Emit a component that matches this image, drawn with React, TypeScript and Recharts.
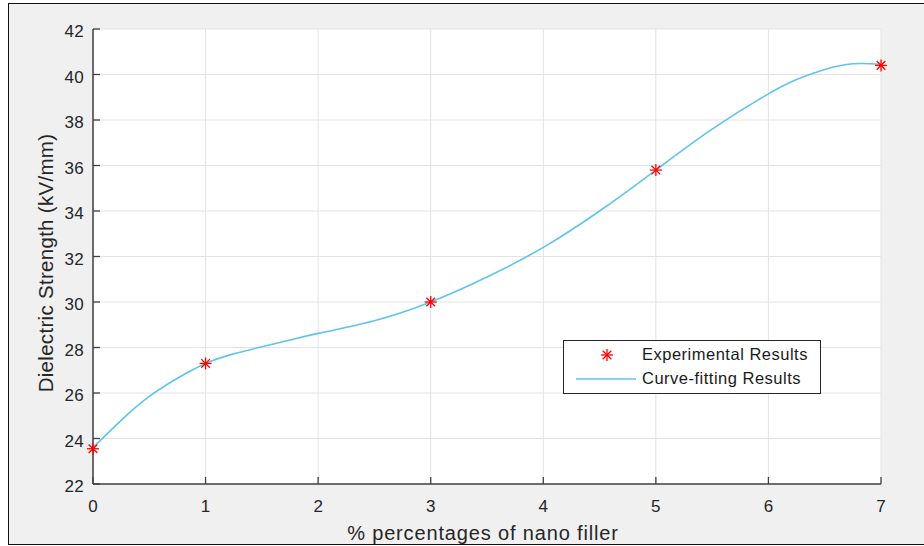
import { ComposedChart, Line, Scatter, XAxis, YAxis, CartesianGrid, Legend } from "recharts";

const xTicks = [0, 1, 2, 3, 4, 5, 6, 7];
const yTicks = [22, 24, 26, 28, 30, 32, 34, 36, 38, 40, 42];

// measured points
const expX = [0, 1, 3, 5, 7];
const expY = [23.55, 27.3, 30.0, 35.8, 40.4];

// fitted curve
const fitX = [0, 0.25, 0.5, 0.75, 1, 1.25, 1.5, 1.75, 2, 2.5, 3, 3.5, 4, 4.5, 5, 5.5, 6, 6.25, 6.5, 6.75, 7];
const fitY = [23.6, 24.8, 25.85, 26.65, 27.3, 27.72, 28.03, 28.33, 28.62, 29.18, 30.0, 31.1, 32.4, 34.0, 35.8, 37.6, 39.15, 39.78, 40.22, 40.47, 40.45];

const expData = expX.map((x, i) => ({ x, y: expY[i] }));
const fitData = fitX.map((x, i) => ({ x, y: fitY[i] }));

const FONT = "'Liberation Sans', Arial, Helvetica, sans-serif";
const AXIS = "#404040";
const TEXT = "#262626";
const RED = "#ff0000";
const BLUE = "#5ec4ee";

function Asterisk({ cx, cy, r = 6 }: { cx: number; cy: number; r?: number }) {
  const d = r * 0.72;
  return (
    <g stroke={RED} strokeWidth={1.3}>
      <line x1={cx - r} y1={cy} x2={cx + r} y2={cy} />
      <line x1={cx} y1={cy - r} x2={cx} y2={cy + r} />
      <line x1={cx - d} y1={cy - d} x2={cx + d} y2={cy + d} />
      <line x1={cx - d} y1={cy + d} x2={cx + d} y2={cy - d} />
    </g>
  );
}

function YTick(props: any) {
  const { x, y, payload } = props;
  const ax = x + 9;
  return (
    <g>
      <line x1={ax} y1={y} x2={ax + 7} y2={y} stroke={AXIS} strokeWidth={1.3} />
      <text x={x} y={y + 8} textAnchor="end" fontSize={17} fill={TEXT} fontFamily={FONT} letterSpacing={0.3}>
        {payload.value}
      </text>
    </g>
  );
}

function XTick(props: any) {
  const { x, y, payload } = props;
  const ay = y - 8;
  return (
    <g>
      <line x1={x} y1={ay} x2={x} y2={ay - 7} stroke={AXIS} strokeWidth={1.3} />
      <text x={x} y={ay + 28} textAnchor="middle" fontSize={17} fill={TEXT} fontFamily={FONT}>
        {payload.value}
      </text>
    </g>
  );
}

function YTitle() {
  return (
    <text
      x={53}
      y={263}
      transform="rotate(-90 53 263)"
      textAnchor="middle"
      fontSize={20.5}
      fill={TEXT}
      fontFamily={FONT}
      letterSpacing={0.3}
    >
      Dielectric Strength (kV/mm)
    </text>
  );
}

function XTitle() {
  return (
    <text x={483} y={540} textAnchor="middle" fontSize={20} fill={TEXT} fontFamily={FONT} letterSpacing={0.85}>
      % percentages of nano filler
    </text>
  );
}

function LegendBox() {
  return (
    <div
      style={{
        width: 256,
        height: 52,
        border: "1px solid #262626",
        background: "#fff",
        fontFamily: FONT,
        fontSize: 16.5,
        color: "#1a1a1a",
        position: "relative",
        letterSpacing: 0.5,
      }}
    >
      <svg width={80} height={52} style={{ position: "absolute", left: 0, top: 0 }}>
        <Asterisk cx={43} cy={14} r={6} />
        <line x1={12} y1={38} x2={72} y2={38} stroke={BLUE} strokeWidth={1.6} />
      </svg>
      <div style={{ position: "absolute", left: 78, top: 4, whiteSpace: "nowrap" }}>Experimental Results</div>
      <div style={{ position: "absolute", left: 78, top: 28, whiteSpace: "nowrap" }}>Curve-fitting Results</div>
    </div>
  );
}

export default function App() {
  return (
    <div style={{ position: "absolute", left: 0, top: 0, width: 924, height: 546, background: "#fff", overflow: "hidden" }}>
      <div
        style={{
          position: "absolute",
          left: 8,
          top: 3,
          width: 940,
          height: 540,
          background: "#f0f0f0",
          border: "1.5px solid #111",
        }}
      />
      <div style={{ position: "absolute", left: 0, top: 0 }}>
        <ComposedChart width={924} height={546} margin={{ top: 29, right: 43, bottom: 0, left: 0 }}>
          <CartesianGrid stroke="#e3e3e3" strokeWidth={1} fill="#ffffff" />
          <XAxis
            type="number"
            dataKey="x"
            domain={[0, 7]}
            ticks={xTicks}
            interval={0}
            height={62}
            tickSize={0}
            tickMargin={8}
            tick={<XTick />}
            axisLine={{ stroke: AXIS, strokeWidth: 1.5 }}
            tickLine={false}
            label={<XTitle />}
          />
          <YAxis
            type="number"
            dataKey="y"
            domain={[22, 42]}
            ticks={yTicks}
            interval={0}
            width={93}
            tickSize={0}
            tickMargin={9}
            tick={<YTick />}
            axisLine={{ stroke: AXIS, strokeWidth: 1.5 }}
            tickLine={false}
            label={<YTitle />}
          />
          <Line
            data={fitData}
            dataKey="y"
            name="Curve-fitting Results"
            type="natural"
            stroke={BLUE}
            strokeWidth={1.6}
            dot={false}
            activeDot={false}
            isAnimationActive={false}
          />
          <Scatter
            data={expData}
            dataKey="y"
            name="Experimental Results"
            shape={(p: any) => <Asterisk cx={p.cx} cy={p.cy} r={6} />}
            isAnimationActive={false}
          />
          <Legend
            layout="horizontal"
            verticalAlign="middle"
            align="center"
            content={<LegendBox />}
            wrapperStyle={{ left: 563, top: 340, width: 258, height: 54 }}
          />
        </ComposedChart>
      </div>
    </div>
  );
}
